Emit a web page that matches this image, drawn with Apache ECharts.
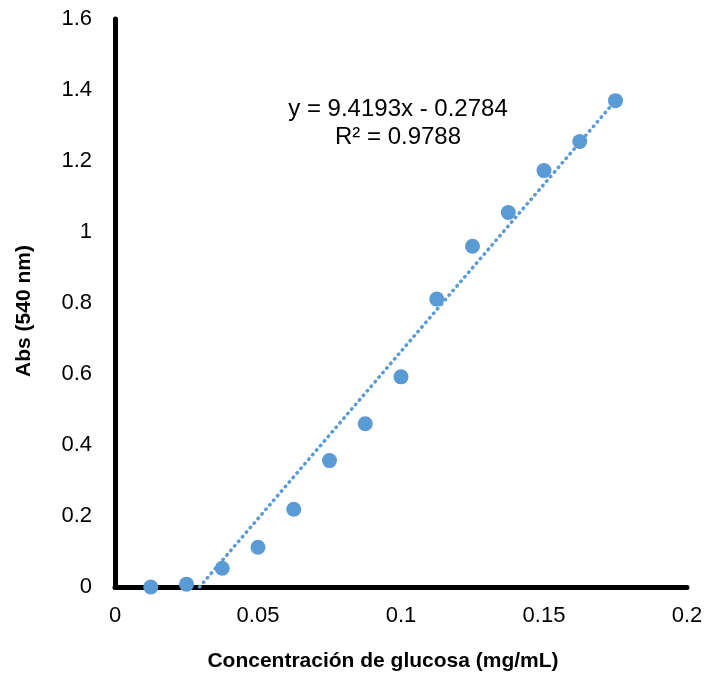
<!DOCTYPE html>
<html><head><meta charset="utf-8">
<script src="https://cdn.jsdelivr.net/npm/echarts@6/dist/echarts.min.js"></script>
<style>html,body{margin:0;padding:0;background:#fff}#c{width:709px;height:678px}</style>
</head><body><div id="c"></div>
<script>
const concentration = [0.0125, 0.025, 0.0375, 0.05, 0.0625, 0.075, 0.0875, 0.1, 0.1125, 0.125, 0.1375, 0.15, 0.1625, 0.175];
const absorbance = [0.0, 0.008, 0.053, 0.112, 0.219, 0.356, 0.460, 0.592, 0.811, 0.960, 1.055, 1.173, 1.255, 1.370];
const slope = 9.4193, intercept = -0.2784, r2 = 0.9788;
const xTicks = [0, 0.05, 0.1, 0.15, 0.2];
const yTicks = [0, 0.2, 0.4, 0.6, 0.8, 1, 1.2, 1.4, 1.6];
const xStart = -intercept / slope, xEnd = concentration[concentration.length - 1];
const trend = [[xStart, slope * xStart + intercept], [xEnd, slope * xEnd + intercept]];
const font = "'Liberation Sans', Arial, sans-serif";
const chart = echarts.init(document.getElementById('c'), null, {renderer: 'canvas'});
chart.setOption({
  animation: false,
  grid: {left: 115, right: 22, top: 19, bottom: 91, containLabel: false},
  xAxis: {
    type: 'value', min: xTicks[0], max: xTicks[xTicks.length - 1], interval: 0.05,
    axisLine: {lineStyle: {color: '#000', width: 5}},
    axisTick: {show: false}, splitLine: {show: false},
    axisLabel: {color: '#000', fontSize: 22, fontFamily: font, margin: 18,
      formatter: v => String(parseFloat(v.toFixed(4)))},
    name: 'Concentración de glucosa (mg/mL)', nameLocation: 'middle', nameGap: 64,
    nameTextStyle: {color: '#000', fontSize: 21, fontWeight: 'bold', fontFamily: font, padding: [0, 36, 0, 0]}
  },
  yAxis: {
    type: 'value', min: yTicks[0], max: yTicks[yTicks.length - 1], interval: 0.2,
    axisLine: {lineStyle: {color: '#000', width: 5}},
    axisTick: {show: false}, splitLine: {show: false},
    axisLabel: {color: '#000', fontSize: 22, fontFamily: font, margin: 23,
      formatter: v => String(parseFloat(v.toFixed(4)))},
    name: 'Abs (540 nm)', nameLocation: 'middle', nameGap: 80, nameRotate: 90,
    nameTextStyle: {color: '#000', fontSize: 21, fontWeight: 'bold', fontFamily: font, padding: [0, 16, 0, 0]}
  },
  series: [
    {type: 'line', data: trend, symbol: 'none', silent: true, z: 1,
      lineStyle: {color: '#5B9BD5', width: 3.5, type: [0.5, 5.5], cap: 'round'}},
    {type: 'scatter', data: concentration.map((x, i) => [x, absorbance[i]]), symbolSize: 15, z: 3,
      itemStyle: {color: '#5B9BD5', opacity: 1}}
  ],
  graphic: [
    {type: 'text', x: 398, y: 109, style: {text: 'y = ' + slope + 'x - ' + (-intercept), fontSize: 24, fontFamily: font, fill: '#000', align: 'center', verticalAlign: 'middle'}},
    {type: 'text', x: 398, y: 137, style: {text: 'R² = ' + r2, fontSize: 24, fontFamily: font, fill: '#000', align: 'center', verticalAlign: 'middle'}}
  ]
});
</script></body></html>
